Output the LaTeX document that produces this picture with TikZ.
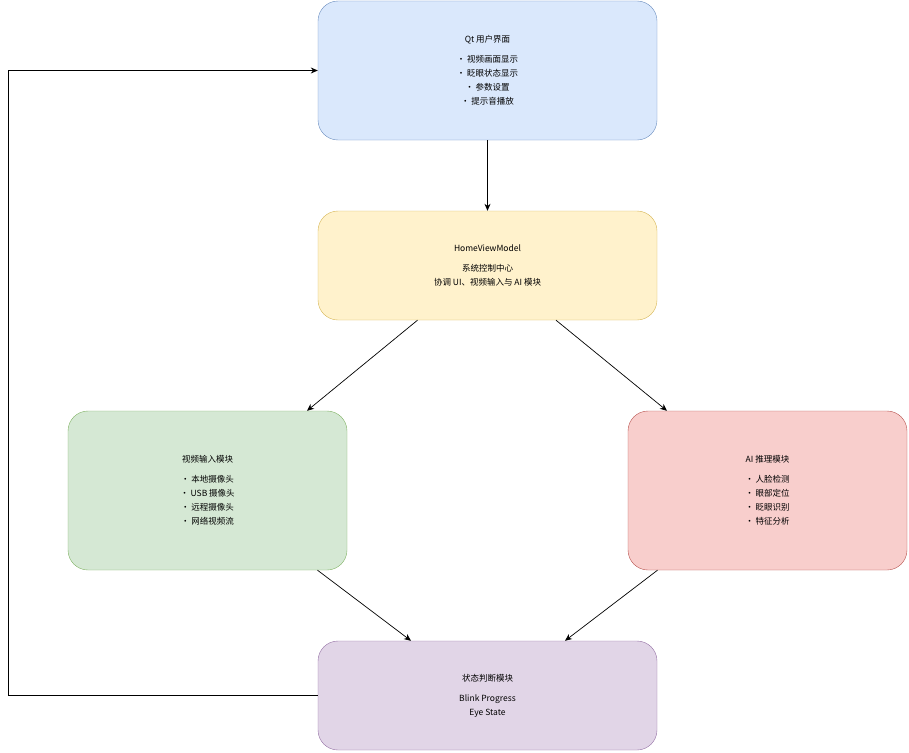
\documentclass[tikz,border=0pt]{standalone}
\usepackage{fontspec}
\setmainfont{Noto Sans CJK SC}
\usetikzlibrary{positioning,arrows.meta}

\definecolor{qtfill}{HTML}{DAE8FC}\definecolor{qtline}{HTML}{6C8EBF}
\definecolor{vmfill}{HTML}{FFF2CC}\definecolor{vmline}{HTML}{D6B656}
\definecolor{vifill}{HTML}{D5E8D4}\definecolor{viline}{HTML}{82B366}
\definecolor{aifill}{HTML}{F8CECC}\definecolor{ailine}{HTML}{B85450}
\definecolor{stfill}{HTML}{E1D5E7}\definecolor{stline}{HTML}{9673A6}

\tikzset{
	block/.style={draw, rounded corners=20pt, align=center, inner sep=0pt,
		font=\fontsize{8.5}{14}\selectfont},
	link/.style={-{Stealth[length=7pt,width=6pt]}, line width=0.7pt}
}

\begin{document}
\begin{tikzpicture}[x=1pt,y=-1pt]
			\useasboundingbox (0,0) rectangle (909,752);

			\node[block, fill=qtfill, draw=qtline, minimum width=339pt, minimum height=139pt] (qt) at (487.5,70.5)
				{Qt 用户界面\\[6pt]• 视频画面显示\\• 眨眼状态显示\\• 参数设置\\• 提示音播放};
			\node[block, fill=vmfill, draw=vmline, minimum width=339pt, minimum height=109pt] (vm) at (487.5,265.5)
				{HomeViewModel\\[6pt]系统控制中心\\协调 UI、视频输入与 AI 模块};
			\node[block, fill=vifill, draw=viline, minimum width=279pt, minimum height=159pt] (video) at (207.5,490.5)
				{视频输入模块\\[6pt]• 本地摄像头\\• USB 摄像头\\• 远程摄像头\\• 网络视频流};
			\node[block, fill=aifill, draw=ailine, minimum width=279pt, minimum height=159pt] (ai) at (767.5,490.5)
				{AI 推理模块\\[6pt]• 人脸检测\\• 眼部定位\\• 眨眼识别\\• 特征分析};
			\node[block, fill=stfill, draw=stline, minimum width=339pt, minimum height=109pt] (state) at (487.5,695.5)
				{状态判断模块\\[6pt]Blink Progress\\Eye State};

			\draw[link] (qt) -- (vm);
			\draw[link] ([xshift=-70pt]vm.south) -- ([xshift=99.5pt]video.north);
			\draw[link] ([xshift=68.5pt]vm.south) -- ([xshift=-100.5pt]ai.north);
			\draw[link] ([xshift=110pt]video.south) -- ([xshift=-76.5pt]state.north);
			\draw[link] ([xshift=-110pt]ai.south) -- ([xshift=77.5pt]state.north);

			\coordinate (back) at (8,695.5);
			\draw[link] (state.west) -- (back) |- (qt.west);
		\end{tikzpicture}
\end{document}
